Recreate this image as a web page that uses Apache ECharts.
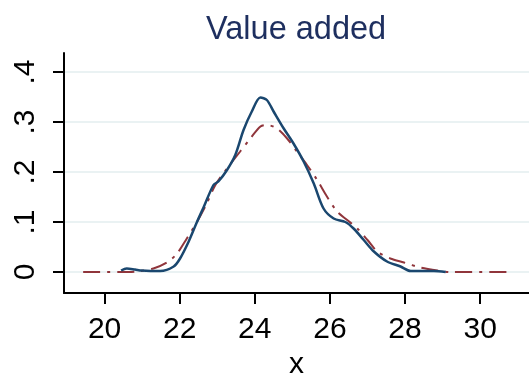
<!DOCTYPE html>
<html>
<head>
<meta charset="utf-8">
<script src="https://cdn.jsdelivr.net/npm/echarts@6/dist/echarts.min.js"></script>
<style>
  html, body { margin: 0; padding: 0; background: #fff; }
  #chart { width: 529px; height: 378px; }
</style>
</head>
<body>
<div id="chart"></div>
<script>
// kernel density (solid)
const kdenX = [20.44, 20.59, 20.81, 20.99, 21.48, 21.84, 22.01, 22.24, 22.46, 22.64, 22.9, 23.03, 23.26, 23.48, 23.7, 23.92, 24.15, 24.32, 24.5, 24.77, 25.03, 25.3, 25.57, 25.83, 26.1, 26.41, 26.63, 26.9, 27.17, 27.52, 27.88, 28.15, 28.77, 29.08];
const kdenY = [0.003, 0.007, 0.005, 0.003, 0.002, 0.011, 0.027, 0.061, 0.1, 0.13, 0.174, 0.181, 0.204, 0.234, 0.284, 0.321, 0.349, 0.344, 0.321, 0.287, 0.257, 0.221, 0.177, 0.127, 0.107, 0.1, 0.087, 0.064, 0.041, 0.021, 0.011, 0.002, 0.002, 0];

// second density (dash-dot)
const refX = [19.43, 20.41, 20.86, 21.3, 21.66, 21.92, 22.19, 22.46, 22.72, 22.95, 23.26, 23.61, 23.88, 24.15, 24.32, 24.59, 24.86, 25.12, 25.39, 25.66, 25.92, 26.19, 26.46, 26.73, 27.0, 27.26, 27.61, 27.97, 28.41, 28.86, 29.21, 30.77];
const refY = [0, 0, 0.001, 0.007, 0.019, 0.036, 0.067, 0.1, 0.137, 0.174, 0.207, 0.241, 0.267, 0.291, 0.294, 0.287, 0.267, 0.241, 0.214, 0.184, 0.151, 0.121, 0.104, 0.087, 0.064, 0.041, 0.027, 0.019, 0.009, 0.003, 0, 0];

const xTicks = [20, 22, 24, 26, 28, 30];
const yTicks = [0, 0.1, 0.2, 0.3, 0.4];

const chart = echarts.init(document.getElementById("chart"));

const fontFamily = "Liberation Sans, Arial, sans-serif";

chart.setOption({
  animation: false,
  backgroundColor: "#ffffff",
  title: {
    text: "Value added",
    left: 206,
    top: 14,
    padding: 0,
    textStyle: { color: "#1e2f5f", fontSize: 32.5, fontWeight: "normal", fontFamily: fontFamily },
  },
  grid: { left: 64, right: 0, top: 53, bottom: 85, outerBoundsMode: "none", containLabel: false },
  xAxis: {
    type: "value",
    min: 18.92,
    max: 31.3,
    name: "x",
    nameLocation: "middle",
    nameGap: 55,
    nameTextStyle: { color: "#000", fontSize: 30, fontFamily: fontFamily },
    axisLine: { onZero: false, lineStyle: { color: "#000", width: 2 } },
    axisTick: { customValues: xTicks, length: 11, lineStyle: { color: "#000", width: 2 } },
    axisLabel: { customValues: xTicks, margin: 22, color: "#000", fontSize: 30, fontFamily: fontFamily },
    splitLine: { show: false },
  },
  yAxis: {
    type: "value",
    min: -0.042,
    max: 0.438,
    axisLine: { show: true, onZero: false, lineStyle: { color: "#000", width: 2 } },
    axisTick: { show: true, customValues: yTicks, length: 11, lineStyle: { color: "#000", width: 2 } },
    axisLabel: {
      customValues: yTicks,
      rotate: 90,
      margin: 23,
      color: "#000",
      fontSize: 30,
      fontFamily: fontFamily,
      formatter: (v) => (v === 0 ? "0" : String(+v.toFixed(1)).replace(/^0/, "")),
    },
    splitLine: { show: true, lineStyle: { color: "#eaf2f3", width: 2 } },
  },
  series: [
    {
      type: "line",
      data: kdenX.map((x, i) => [x, kdenY[i]]),
      showSymbol: false,
      smooth: 0.3,
      lineStyle: { color: "#1a476f", width: 2.5 },
      z: 3,
    },
    {
      type: "line",
      data: refX.map((x, i) => [x, refY[i]]),
      showSymbol: false,
      smooth: 0.3,
      lineStyle: { color: "#90353b", width: 2, type: [17, 7, 3, 7] },
      z: 2,
    },
  ],
});
</script>
</body>
</html>
